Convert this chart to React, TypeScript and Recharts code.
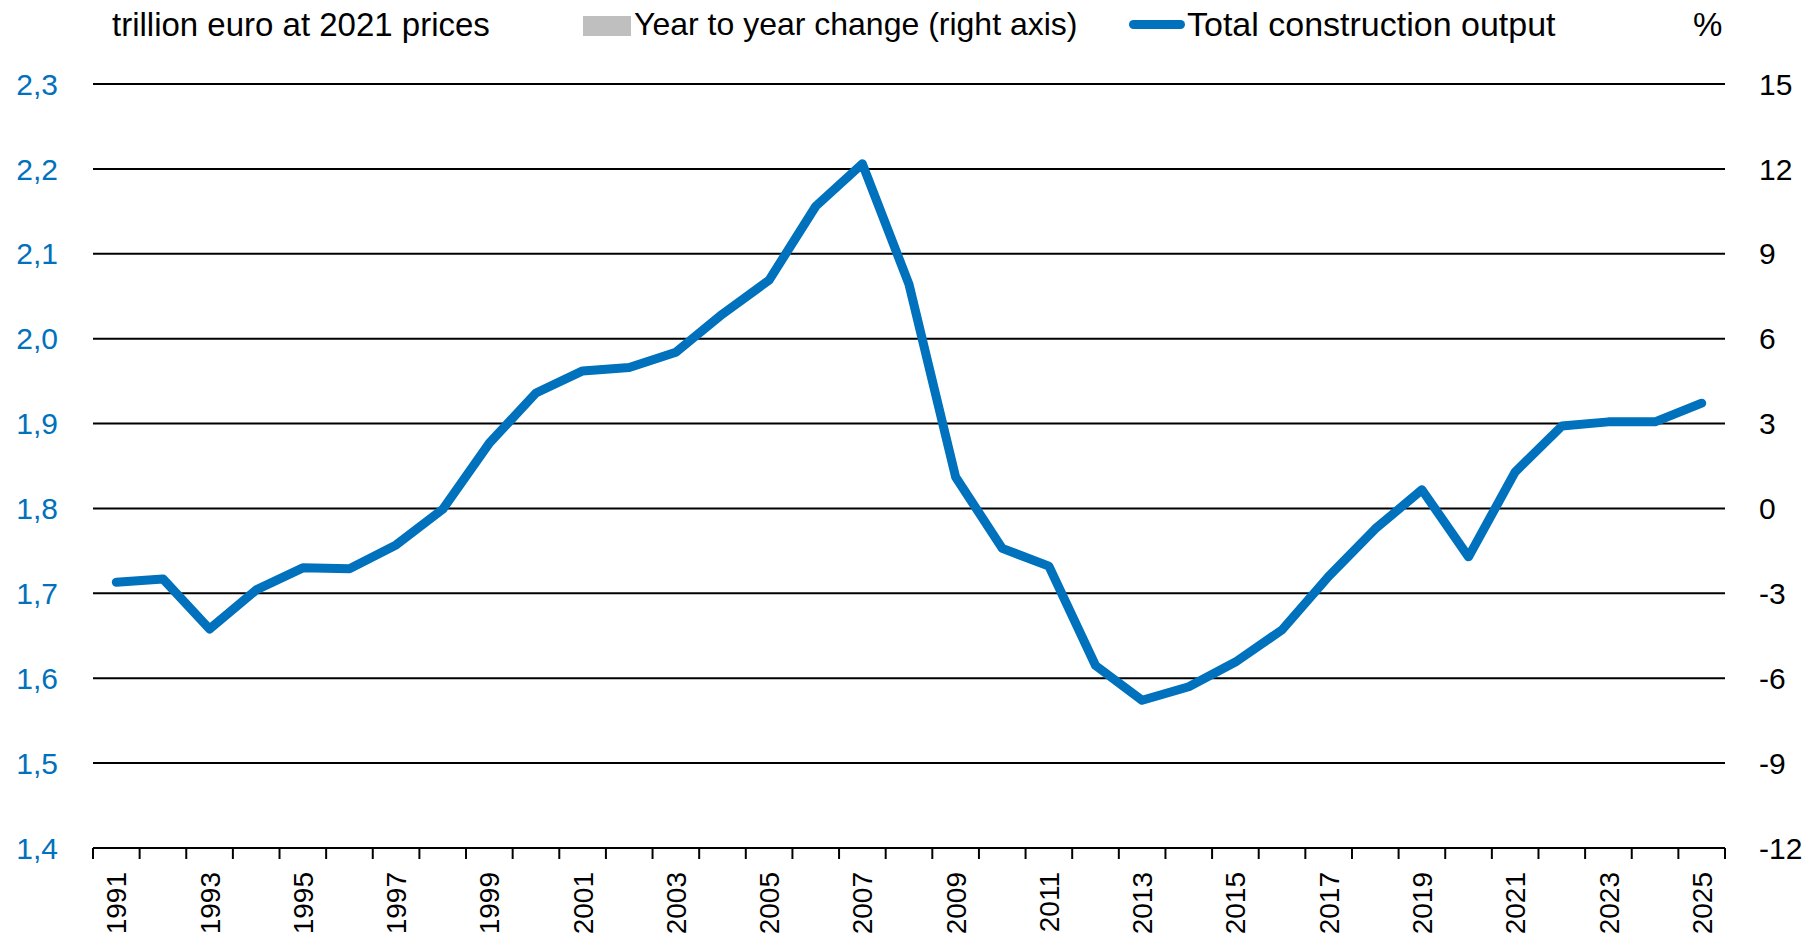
import React from "react";
import { ComposedChart, Line, Bar, XAxis, YAxis, CartesianGrid } from "recharts";

const years = [
  1991, 1992, 1993, 1994, 1995, 1996, 1997, 1998, 1999, 2000, 2001, 2002,
  2003, 2004, 2005, 2006, 2007, 2008, 2009, 2010, 2011, 2012, 2013, 2014,
  2015, 2016, 2017, 2018, 2019, 2020, 2021, 2022, 2023, 2024, 2025,
];

// Total construction output, trillion euro at 2021 prices
const totalOutput = [
  1.713, 1.717, 1.658, 1.704, 1.73, 1.729, 1.757, 1.799, 1.877, 1.936, 1.962,
  1.966, 1.984, 2.029, 2.069, 2.156, 2.206, 2.064, 1.837, 1.753, 1.732, 1.615,
  1.574, 1.59, 1.619, 1.657, 1.72, 1.776, 1.822, 1.743, 1.843, 1.897, 1.902,
  1.902, 1.924,
];

// Year to year change (right axis), % — no bars are drawn in the reference
const yearToYearChange: (number | null)[] = [
  null, null, null, null, null, null, null, null, null, null, null, null,
  null, null, null, null, null, null, null, null, null, null, null, null,
  null, null, null, null, null, null, null, null, null, null, null,
];

const leftTicks = [1.4, 1.5, 1.6, 1.7, 1.8, 1.9, 2.0, 2.1, 2.2, 2.3];
const rightTicks = [-12, -9, -6, -3, 0, 3, 6, 9, 12, 15];
const labelYears = [
  1991, 1993, 1995, 1997, 1999, 2001, 2003, 2005, 2007, 2009, 2011, 2013,
  2015, 2017, 2019, 2021, 2023, 2025,
];

const BLUE = "#0071BC";
const GREY = "#BFBFBF";
const SANS = "'Liberation Sans', Arial, sans-serif";

const data = years.map((year, i) => ({
  year,
  output: totalOutput[i],
  change: yearToYearChange[i],
}));

const boundaryTicks = [...years.map((y) => y - 0.5), years[years.length - 1] + 0.5];
const xDomain: [number, number] = [years[0] - 0.5, years[years.length - 1] + 0.5];

const EmptyTick = () => <g />;

const YearLabel = (props: any) => {
  const { x, y, payload } = props;
  return (
    <text
      x={x}
      y={y}
      transform={`rotate(-90, ${x}, ${y})`}
      textAnchor="end"
      dy="0.36em"
      fill="#000"
      fontSize={28}
      fontFamily={SANS}
    >
      {payload.value}
    </text>
  );
};

const legendText: React.CSSProperties = {
  position: "absolute",
  top: 0,
  fontFamily: SANS,
  fontSize: 33,
  lineHeight: "33px",
  color: "#000",
  whiteSpace: "nowrap",
};

export default function App() {
  return (
    <div style={{ position: "relative", width: 1798, height: 925 }}>
      <ComposedChart
        width={1798}
        height={933}
        data={data}
        margin={{ top: 76, right: 0, bottom: 0, left: 0 }}
      >
        <CartesianGrid
          xAxisId="a"
          yAxisId="left"
          vertical={false}
          stroke="#000"
          strokeWidth={2}
        />
        <XAxis
          xAxisId="a"
          type="number"
          dataKey="year"
          domain={xDomain}
          allowDataOverflow
          ticks={boundaryTicks}
          interval={0}
          height={11}
          tickSize={11}
          tickLine={{ stroke: "#000", strokeWidth: 2 }}
          axisLine={{ stroke: "#000", strokeWidth: 2 }}
          tick={EmptyTick}
        />
        <XAxis
          xAxisId="b"
          type="number"
          dataKey="year"
          domain={xDomain}
          allowDataOverflow
          ticks={labelYears}
          interval={0}
          height={82}
          tickSize={0}
          tickMargin={13}
          tickLine={false}
          axisLine={false}
          tick={YearLabel}
        />
        <YAxis
          yAxisId="left"
          orientation="left"
          domain={[1.4, 2.3]}
          allowDataOverflow
          ticks={leftTicks}
          interval={0}
          width={85}
          axisLine={false}
          tickLine={false}
          tickSize={0}
          tickMargin={35}
          tick={{ fill: BLUE, fontSize: 30, fontFamily: SANS }}
          tickFormatter={(v: number) => v.toFixed(1).replace(".", ",")}
        />
        <YAxis
          yAxisId="right"
          orientation="right"
          domain={[-12, 15]}
          allowDataOverflow
          ticks={rightTicks}
          interval={0}
          width={81}
          axisLine={false}
          tickLine={false}
          tickSize={0}
          tickMargin={34}
          tick={{ fill: "#000", fontSize: 30, fontFamily: SANS }}
        />
        <Bar
          xAxisId="a"
          yAxisId="right"
          dataKey="change"
          fill={GREY}
          barSize={30}
          isAnimationActive={false}
        />
        <Line
          xAxisId="a"
          yAxisId="left"
          type="linear"
          dataKey="output"
          stroke={BLUE}
          strokeWidth={9}
          strokeLinejoin="round"
          strokeLinecap="round"
          dot={false}
          activeDot={false}
          isAnimationActive={false}
        />
      </ComposedChart>

      <span style={{ ...legendText, left: 104 }}>trillion euro at 2021 prices</span>
      <div
        style={{
          position: "absolute",
          left: 575,
          top: 8,
          width: 48,
          height: 20,
          background: GREY,
        }}
      />
      <span style={{ ...legendText, left: 626, fontSize: 32 }}>Year to year change (right axis)</span>
      <div
        style={{
          position: "absolute",
          left: 1121,
          top: 12,
          width: 56,
          height: 9,
          borderRadius: 4.5,
          background: BLUE,
        }}
      />
      <span style={{ ...legendText, left: 1179, fontSize: 34 }}>Total construction output</span>
      <span style={{ ...legendText, left: 1685 }}>%</span>
    </div>
  );
}
